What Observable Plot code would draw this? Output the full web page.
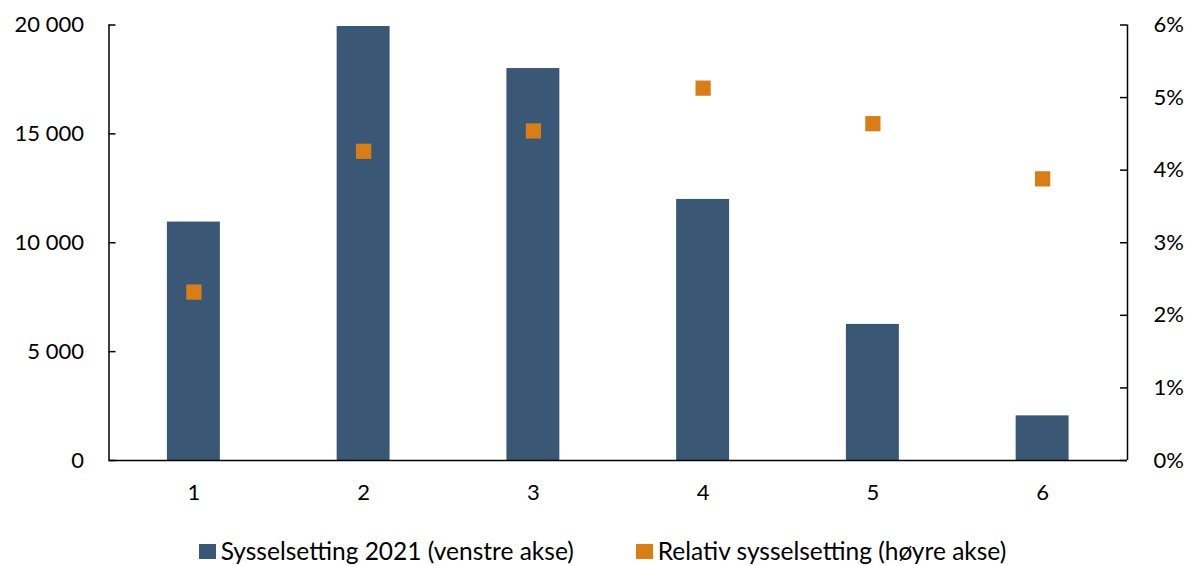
<!DOCTYPE html>
<html>
<head>
<meta charset="utf-8">
<script src="https://cdn.jsdelivr.net/npm/d3@7"></script>
<script src="https://cdn.jsdelivr.net/npm/@observablehq/plot@0.6"></script>
<style>
  html, body { margin: 0; padding: 0; background: #fff; }
  body { width: 1195px; height: 566px; overflow: hidden; font-family: Lato, "Open Sans", sans-serif; }
  #chart svg { display: block; }
  #legend { display: flex; justify-content: center; gap: 62px; font-size: 24.5px; line-height: 30px; color: #000; margin-top: 16px; padding-left: 10px; }
  .item { display: flex; align-items: center; gap: 5px; }
  .sw { width: 17px; height: 15px; display: inline-block; }
</style>
</head>
<body>
<div id="chart"></div>
<div id="legend"></div>
<script>
const categories = [1, 2, 3, 4, 5, 6];
const employment = [10950, 19930, 18000, 11990, 6250, 2050];
const relative = [2.32, 4.26, 4.54, 5.13, 4.64, 3.88];
const leftTicks = [0, 5000, 10000, 15000, 20000];
const rightTicks = [0, 1, 2, 3, 4, 5, 6];
const seriesNames = ["Sysselsetting 2021 (venstre akse)", "Relativ sysselsetting (høyre akse)"];
const colors = ["#3A5775", "#D97E17"];

const yMax = 20000, pMax = 6;
const toLeft = p => p * yMax / pMax;
const barW = 0.312;

const data = categories.map((c, i) => ({cat: c, emp: employment[i], rel: relative[i]}));
const fmt = v => d3.format(",")(v).replace(/,/g, " ");

const W = 1195, H = 520;
const mL = 108.5, mR = 68;
const frameW = W - mL - mR;

const chart = Plot.plot({
  width: W,
  height: H,
  marginLeft: mL,
  marginRight: mR,
  marginTop: 24.5,
  marginBottom: 60,
  style: {fontFamily: "Lato, 'Open Sans', sans-serif", fontSize: "22px", color: "#000", background: "#fff"},
  x: {domain: [0.5, 6.5], label: null},
  y: {domain: [0, yMax], label: null},
  marks: [
    Plot.rectY(data, {x1: d => d.cat - barW / 2, x2: d => d.cat + barW / 2, y1: 0, y2: "emp", fill: colors[0]}),
    Plot.dot(data, {x: "cat", y: d => toLeft(d.rel), symbol: "square", r: 8.6, fill: colors[1]}),
    Plot.ruleY([0], {stroke: "#000", strokeWidth: 1.5}),
    Plot.ruleX([0.5, 6.5], {stroke: "#000", strokeWidth: 1.5}),
    Plot.tickY(leftTicks, {y: d => d, stroke: "#000", strokeWidth: 1.5, insetRight: frameW - 7}),
    Plot.tickY(rightTicks.map(toLeft), {y: d => d, stroke: "#000", strokeWidth: 1.5, insetLeft: frameW - 7}),
    Plot.axisY(leftTicks, {anchor: "left", label: null, tickSize: 0, tickPadding: 25, tickFormat: fmt, fill: "#000", fontSize: 22}),
    Plot.axisY(rightTicks.map(toLeft), {anchor: "right", label: null, tickSize: 0, tickPadding: 26, tickFormat: d => Math.round(d * pMax / yMax) + "%", fill: "#000", fontSize: 22}),
    Plot.axisX(categories, {anchor: "bottom", label: null, tickSize: 0, tickPadding: 24, tickFormat: d => String(d), fill: "#000", fontSize: 22})
  ]
});
document.getElementById("chart").appendChild(chart);

const legend = document.getElementById("legend");
seriesNames.forEach((name, i) => {
  const item = document.createElement("div");
  item.className = "item";
  const sw = document.createElement("span");
  sw.className = "sw";
  sw.style.background = colors[i];
  const t = document.createElement("span");
  t.textContent = name;
  item.appendChild(sw);
  item.appendChild(t);
  legend.appendChild(item);
});
</script>
</body>
</html>
